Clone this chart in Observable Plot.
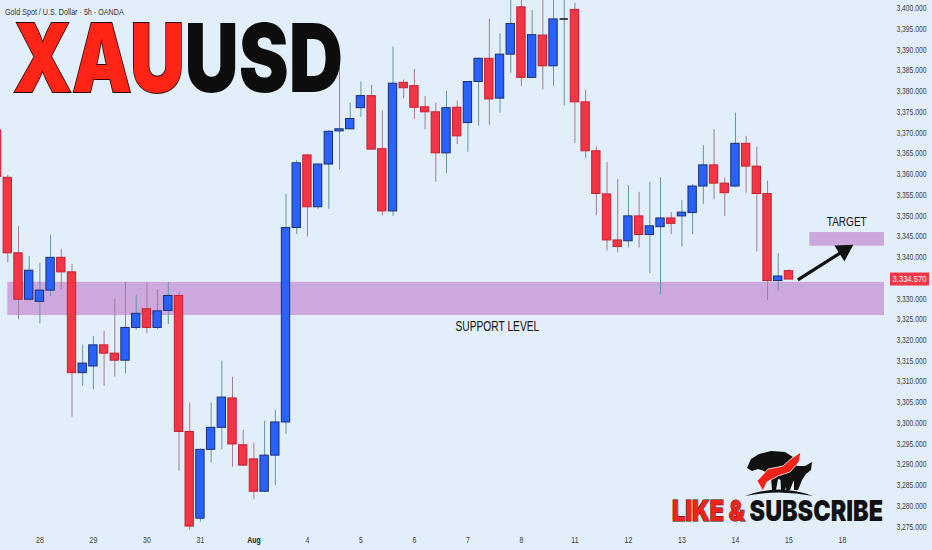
<!DOCTYPE html>
<html><head><meta charset="utf-8">
<script src="https://cdn.jsdelivr.net/npm/d3@7"></script>
<script src="https://cdn.jsdelivr.net/npm/@observablehq/plot@0.6"></script>
<style>
html,body{margin:0;padding:0;background:#e2eef9;}
#wrap{position:relative;width:932px;height:550px;overflow:hidden;background:#e2eef9;}
#overlay{position:absolute;left:0;top:0;pointer-events:none;}
</style></head><body>
<div id="wrap"></div>
<script>
// OHLC of each 5h bar (first bar index = -1, partly off-screen)
const firstIndex = -1;
const openP  = [3370.5,3359.1,3340.9,3329.7,3329.2,3331.9,3339.8,3336.3,3312.0,3313.6,3318.7,3316.7,3315.0,3322.9,3327.4,3322.9,3327.0,3330.6,3297.8,3276.9,3293.5,3298.8,3305.9,3294.6,3291.2,3283.4,3292.1,3300.1,3347.0,3364.5,3352.0,3362.3,3370.3,3370.8,3375.9,3378.8,3366.0,3351.0,3382.0,3381.2,3376.1,3374.9,3365.0,3376.0,3372.3,3382.2,3387.8,3378.2,3388.8,3400.2,3383.2,3393.4,3386.0,3397.4,3399.6,3377.3,3365.5,3355.1,3344.0,3343.8,3349.8,3345.3,3347.2,3349.3,3349.8,3350.6,3357.0,3362.1,3357.7,3357.0,3367.3,3361.8,3355.2,3334.2,3336.6];
const highP  = [3371.0,3359.7,3347.4,3340.1,3338.5,3345.3,3341.9,3338.2,3318.7,3320.8,3322.1,3329.8,3333.9,3330.7,3333.7,3332.1,3333.9,3331.5,3304.8,3293.7,3304.8,3314.9,3311.0,3298.2,3295.1,3300.4,3303.0,3355.1,3363.3,3364.7,3362.5,3370.5,3386.0,3377.1,3382.2,3381.4,3375.3,3390.6,3382.7,3385.2,3378.7,3377.1,3380.0,3377.6,3382.3,3388.0,3397.4,3393.8,3402.5,3402.5,3399.4,3402.5,3402.5,3402.5,3401.2,3380.2,3366.5,3362.8,3358.7,3357.2,3355.6,3358.0,3359.1,3350.7,3353.6,3357.5,3366.9,3370.7,3359.1,3374.7,3369.1,3366.5,3358.3,3340.8,3336.9];
const lowP   = [3358.0,3338.6,3324.9,3329.5,3323.9,3330.5,3332.2,3301.4,3308.8,3308.0,3308.8,3311.0,3311.8,3322.3,3321.5,3322.5,3323.7,3288.4,3274.1,3276.1,3290.3,3293.5,3289.3,3289.5,3281.5,3283.2,3284.9,3297.2,3345.4,3344.8,3351.5,3351.5,3361.0,3370.7,3373.7,3365.8,3349.9,3349.8,3378.2,3373.1,3370.7,3358.0,3360.1,3367.1,3365.3,3371.6,3371.7,3374.7,3384.3,3381.1,3383.0,3380.3,3381.2,3376.4,3367.4,3363.7,3350.0,3341.4,3341.0,3342.2,3342.2,3336.0,3330.9,3345.4,3342.4,3345.4,3352.7,3353.8,3349.8,3356.8,3355.4,3341.2,3329.5,3331.8,3334.5];
const closeP = [3359.3,3340.9,3329.7,3336.7,3331.9,3339.8,3336.3,3312.0,3314.3,3318.7,3316.7,3315.0,3322.9,3326.3,3322.9,3326.9,3330.6,3297.8,3275.0,3293.5,3298.8,3306.1,3294.8,3289.7,3283.4,3292.1,3300.1,3347.0,3362.6,3352.0,3362.3,3370.2,3370.8,3373.3,3378.8,3365.9,3351.0,3381.8,3380.7,3376.0,3374.9,3365.0,3375.9,3369.1,3382.2,3387.8,3378.0,3388.8,3396.2,3383.2,3393.5,3386.0,3397.3,3397.4,3377.3,3365.5,3355.2,3344.0,3342.4,3349.8,3345.3,3347.4,3349.3,3348.0,3350.7,3357.0,3362.1,3357.7,3355.4,3367.3,3361.8,3355.2,3334.2,3335.3,3334.57];

// date axis
const dateTickIndex  = [3,8,13,18,23,28,33,38,43,48,53,58,63,68,73,78];
const dateTickLabels = ["28","29","30","31","Aug","4","5","6","7","8","11","12","13","14","15","18"];
// price axis
const yTicks = d3.range(3275, 3401, 5);
// zones
const supportZone = [3325.9, 3333.9];
const targetZone  = [3342.6, 3345.9];
const lastPrice = 3334.57;

const candles = openP.map((o, k) => ({i: k + firstIndex, o, h: highP[k], l: lowP[k], c: closeP[k]}));
const labelMap = new Map(dateTickIndex.map((d, k) => [d, dateTickLabels[k]]));
const shownYTicks = yTicks.filter(t => Math.abs(t - lastPrice) > 2.5); // hidden under price tag
const UP = "#2962ff", DOWN = "#f23645";
const half = 0.39;
const xMax = 81.93;

const chart = Plot.plot({
  width: 932, height: 550,
  marginLeft: 0, marginRight: 48, marginTop: 0, marginBottom: 20,
  style: {background: "#e2eef9", fontFamily: "'Liberation Sans', Arial, sans-serif", overflow: "hidden"},
  x: {domain: [-0.682, xMax], axis: null},
  y: {domain: [3274.05, 3401.86], axis: null},
  marks: [
    Plot.rect([supportZone], {x1: 0, x2: xMax, y1: d => d[0], y2: d => d[1], fill: "#cda8df"}),
    Plot.rect([targetZone], {x1: 74.95, x2: xMax, y1: d => d[0], y2: d => d[1], fill: "#cda8df"}),
    Plot.ruleX(candles, {x: "i", y1: "l", y2: "h", stroke: d => d.c >= d.o ? "#5f9a9c" : "#a67c8e", strokeWidth: 1, clip: true}),
    Plot.rect(candles.filter(d => d.o !== d.c), {
      x1: d => d.i - half, x2: d => d.i + half, y1: "o", y2: "c",
      fill: d => d.c > d.o ? UP : DOWN,
      stroke: d => d.c > d.o ? "#1b2f6e" : "#c8202f", strokeWidth: 1, clip: true
    }),
    Plot.ruleY(candles.filter(d => d.o === d.c), {y: "o", x1: d => d.i - half, x2: d => d.i + half, stroke: "#111", strokeWidth: 1.5}),
    // arrow towards target: shaft + filled head
    Plot.link([{x1: 73.83, y1: 3334.5, x2: 78.3, y2: 3341.8}], {x1: "x1", y1: "y1", x2: "x2", y2: "y2", stroke: "#111", strokeWidth: 3.2}),
    Plot.dot([{x: 78.15, y: 3341.55}], {x: "x", y: "y", symbol: "triangle", r: 7, rotate: 58, fill: "#111", stroke: "none"}),
    Plot.text(["TARGET"], {x: 78.4, y: 3348.4, text: d => d, fontSize: 13, fill: "#111", fontWeight: 500}),
    Plot.text(["SUPPORT LEVEL"], {x: 45.75, y: 3323.25, text: d => d, fontSize: 14, fill: "#111", fontWeight: 500}),
    Plot.axisY({ticks: shownYTicks, anchor: "right", tickSize: 0, tickPadding: 12, tickFormat: d3.format(",.3f"), fontSize: 9.5, fill: "#3d3d3d", label: null}),
    Plot.axisX({ticks: dateTickIndex, tickSize: 0, tickPadding: 6, tickFormat: d => labelMap.get(d), fontSize: 8.5, fill: "#3a3a3a", label: null})
  ]
});

document.getElementById("wrap").appendChild(chart);
const svg = d3.select(chart);

// horizontally compress a text to a target width (condensed look)
function fit(node, target) {
  const w = node.getBBox().width;
  if (!w) return;
  const k = target / w;
  const tr = node.getAttribute("transform");
  if (tr) node.setAttribute("transform", tr + ` scale(${k},1)`);
  else {
    const x = +node.getAttribute("x") || 0;
    node.setAttribute("transform", `translate(${x},0) scale(${k},1) translate(${-x},0)`);
  }
}

svg.selectAll('g[aria-label="y-axis tick label"] text').each(function(){ fit(this, 30); });
svg.selectAll('g[aria-label="x-axis tick label"] text').each(function(){ fit(this, this.getBBox().width * 0.82); });
svg.selectAll("text").filter(function(){ return this.textContent === "Aug"; }).attr("font-weight", "bold").attr("fill", "#222");
svg.selectAll("text").filter(function(){ return this.textContent === "TARGET"; }).each(function(){ fit(this, 40); });
svg.selectAll("text").filter(function(){ return this.textContent === "SUPPORT LEVEL"; }).each(function(){ fit(this, 84); });

// last price tag on the price scale
const yLast = chart.scale("y").apply(lastPrice);
const tag = svg.append("g");
tag.append("rect").attr("x", 890).attr("y", yLast - 6.5).attr("width", 39).attr("height", 13).attr("fill", DOWN);
const tagText = tag.append("text").attr("x", 909.5).attr("y", yLast).attr("dy", "0.35em").attr("text-anchor", "middle")
  .attr("fill", "#fff").attr("font-size", 9).attr("font-family", "'Liberation Sans', Arial, sans-serif")
  .text(d3.format(",.3f")(lastPrice));
fit(tagText.node(), 34);

// overlay: title, subtitle, branding
const ov = d3.select("#wrap").append("svg").attr("id", "overlay").attr("width", 932).attr("height", 550);
const subtitle = ov.append("text").attr("x", 5).attr("y", 15).attr("font-size", 9).attr("fill", "#333")
  .attr("font-family", "'Liberation Sans', Arial, sans-serif")
  .text("Gold Spot / U.S. Dollar · 5h · OANDA");
fit(subtitle.node(), 119);
const title = ov.append("text").attr("x", 13).attr("y", 92).attr("font-size", 95).attr("font-weight", 900)
  .attr("font-family", "Inter, Roboto, 'Liberation Sans', sans-serif");
title.append("tspan").attr("fill", "#ff2516").attr("stroke", "#2a0606").attr("stroke-width", 2).attr("paint-order", "stroke").text("XAU");
title.append("tspan").attr("fill", "#0d0d0d").text("USD");
fit(title.node(), 330);

const sub = ov.append("text").attr("x", 672).attr("y", 521).attr("font-size", 29).attr("font-weight", 900)
  .attr("font-family", "Inter, Roboto, 'Liberation Sans', sans-serif");
sub.append("tspan").attr("fill", "#f0221a").attr("stroke", "#2a0606").attr("stroke-width", 1).attr("paint-order", "stroke").text("LIKE &");
sub.append("tspan").attr("fill", "#111").text(" SUBSCRIBE");
fit(sub.node(), 211);

// bull & bear logo
const logo = ov.append("g");
logo.append("path").attr("fill", "#111").attr("d", "M745,496 Q779,483 813,496 Q779,489 745,496 Z");
logo.append("path").attr("fill", "#111").attr("d", "M747,468 L751,459 L759,454 L771,451 L785,452 L793,457 L797,465 L795,477 L790,490 L786,490 L786,481 L778,479 L776,490 L772,490 L771,477 L764,471 L758,469 L752,471 Z");
logo.append("path").attr("fill", "#111").attr("d", "M780,470 L797,466 L805,466 L812,462 L811,470 L806,474 L802,480 L798,490 L794,490 L794,481 L787,483 L785,490 L781,490 Z");
logo.append("path").attr("fill", "#f0221a").attr("stroke", "#fff").attr("stroke-width", 0.8).attr("d", "M757,481 L768,469 L783,466 L792,458 L801,452 L799,462 L790,472 L778,476 L767,482 L763,491 Z");
</script>
</body></html>
